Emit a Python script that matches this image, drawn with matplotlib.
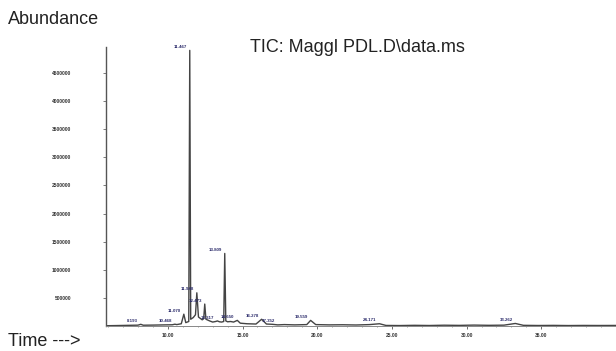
"""
Recreates a GC-MS total ion chromatogram (TIC) plot"""

import matplotlib.pyplot as plt
from matplotlib.ticker import MultipleLocator

# chromatogram trace (min, counts)
trace_t = [5.9, 6.6, 7.4, 8.0, 8.19, 8.35, 9.0, 9.8, 10.3, 10.47, 10.6, 10.9,
           11.07, 11.2, 11.40, 11.467, 11.53, 11.7, 11.85, 11.94, 12.05, 12.3,
           12.40, 12.47, 12.55, 12.8, 13.0, 13.2, 13.317, 13.45, 13.6, 13.74,
           13.809, 13.88, 14.0, 14.2, 14.4, 14.65, 14.85, 15.3, 15.9, 16.278,
           16.6, 17.0, 17.352, 17.8, 18.5, 19.3, 19.559, 19.9, 20.8, 21.7, 22.6,
           23.5, 24.171, 24.6, 25.5, 26.5, 27.5, 28.5, 29.5, 30.5, 31.5, 32.5,
           33.262, 33.8, 34.8, 35.8, 36.8, 37.8, 38.8, 40.0]
trace_a = [5000, 8000, 12000, 15000, 30000, 14000, 16000, 20000, 22000, 32000,
           25000, 40000, 210000, 60000, 80000, 4900000, 120000, 150000, 200000,
           590000, 160000, 110000, 130000, 390000, 120000, 90000, 70000, 80000,
           90000, 75000, 70000, 80000, 1290000, 90000, 75000, 80000, 70000,
           100000, 50000, 40000, 35000, 120000, 35000, 30000, 20000, 25000, 20000,
           25000, 100000, 25000, 20000, 22000, 18000, 25000, 40000, 10000, 8000,
           12000, 9000, 14000, 11000, 16000, 12000, 15000, 45000, 12000, 9000,
           11000, 8000, 10000, 9000, 10000]

# labelled peaks: retention time and apex abundance
peak_t = [8.193, 10.468, 11.070, 11.467, 11.948, 12.473, 13.317, 13.809,
          14.650, 16.278, 17.352, 19.559, 24.171, 33.262]
peak_a = [30000, 32000, 210000, 4900000, 590000, 390000, 90000, 1290000,
          100000, 120000, 20000, 100000, 40000, 45000]

x_ticks = [10, 15, 20, 25, 30, 35]
y_ticks = [500000, 1000000, 1500000, 2000000, 2500000, 3000000, 3500000,
           4000000, 4500000]

plt.rcParams['font.family'] = ['Liberation Sans', 'DejaVu Sans']

fig = plt.figure(figsize=(6.16, 3.51), dpi=100)
ax = fig.add_axes([106 / 616, 25 / 351, 510 / 616, 279 / 351])

ax.plot(trace_t, trace_a, color='#444444', lw=1.0)

for t, a in zip(peak_t, peak_a):
    ax.annotate(f'{t:.3f}', xy=(t, a), xytext=(-2, 1),
                textcoords='offset points', ha='right', va='bottom',
                fontsize=3.2, fontweight='bold', color='#2a2a6a')

ax.set_xlim(5.86, 40.0)
ax.set_ylim(0, 4960000)
ax.set_xticks(x_ticks)
ax.set_xticklabels([f'{v:.2f}' for v in x_ticks])
ax.xaxis.set_minor_locator(MultipleLocator(1))
ax.set_yticks(y_ticks)
ax.set_yticklabels([str(v) for v in y_ticks])

ax.tick_params(axis='x', which='major', length=2, width=0.6, pad=3,
               labelsize=3.5, colors='#555555', labelcolor='#333333')
ax.tick_params(axis='x', which='minor', length=1, width=0.5,
               colors='#777777')
ax.tick_params(axis='y', length=2, width=0.6, pad=23, labelsize=3.5,
               colors='#666666', labelcolor='#333333')
for lbl in ax.get_xticklabels() + ax.get_yticklabels():
    lbl.set_fontweight('bold')

for side in ['top', 'right']:
    ax.spines[side].set_visible(False)
ax.spines['left'].set_color('#555555')
ax.spines['left'].set_linewidth(1.0)
ax.spines['bottom'].set_color('#888888')
ax.spines['bottom'].set_linewidth(0.7)

fig.text(8 / 616, 1 - 20 / 351, 'Abundance', fontsize=13, color='#222222',
         ha='left', va='center')
fig.text(250 / 616, 1 - 47 / 351, 'TIC: Maggl PDL.D\\data.ms', fontsize=13,
         color='#222222', ha='left', va='center')
fig.text(8 / 616, 1 - 342 / 351, 'Time --->', fontsize=13, color='#222222',
         ha='left', va='center')

fig.savefig('out.png', dpi=100)
